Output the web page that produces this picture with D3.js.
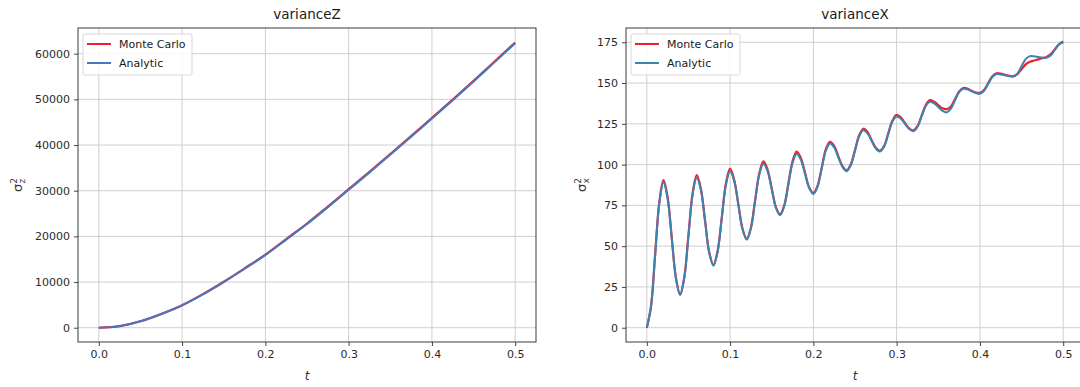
<!DOCTYPE html>
<html>
<head>
<meta charset="utf-8">
<script src="https://cdn.jsdelivr.net/npm/d3@7"></script>
<style>
html,body{margin:0;padding:0;background:#fff;}
svg{display:block;font-family:"DejaVu Sans",sans-serif;}
</style>
</head>
<body>
<svg id="chart" width="1080" height="387"></svg>
<script>
// ---------- data ----------
const seriesNames = ["Monte Carlo", "Analytic"];
const xTicks = [0.0, 0.1, 0.2, 0.3, 0.4, 0.5];
const zTicks = [0, 10000, 20000, 30000, 40000, 50000, 60000];
const xVarTicks = [0, 25, 50, 75, 100, 125, 150, 175];

// varianceZ sampled every 0.025
const tZ = [0,0.025,0.05,0.075,0.1,0.125,0.15,0.175,0.2,0.225,0.25,0.275,0.3,0.325,0.35,0.375,0.4,0.425,0.45,0.475,0.5];
const zAnalytic = [0,350,1400,3000,4900,7300,10000,12900,15900,19300,22700,26400,30200,34000,37900,41800,45800,49800,53900,58100,62300];
const zMonteCarlo = [0,355,1410,3020,4930,7350,10070,12990,16000,19410,22820,26530,30330,34140,38040,41950,45950,49950,54050,58250,62450];

// varianceX sampled every 0.005
const tX = [0,0.005,0.01,0.015,0.02,0.025,0.03,0.035,0.04,0.045,0.05,0.055,0.06,0.065,0.07,0.075,0.08,0.085,0.09,0.095,
0.1,0.105,0.11,0.115,0.12,0.125,0.13,0.135,0.14,0.145,0.15,0.155,0.16,0.165,0.17,0.175,0.18,0.185,0.19,0.195,
0.2,0.205,0.21,0.215,0.22,0.225,0.23,0.235,0.24,0.245,0.25,0.255,0.26,0.265,0.27,0.275,0.28,0.285,0.29,0.295,
0.3,0.305,0.31,0.315,0.32,0.325,0.33,0.335,0.34,0.345,0.35,0.355,0.36,0.365,0.37,0.375,0.38,0.385,0.39,0.395,
0.4,0.405,0.41,0.415,0.42,0.425,0.43,0.435,0.44,0.445,0.45,0.455,0.46,0.465,0.47,0.475,0.48,0.485,0.49,0.495,0.5];
const xAnalytic = [0,13,44.5,76,89,78.9,54.5,30.1,20,30.5,56,81.5,92,84.1,65,45.9,38,46.5,67,87.5,
96,89.8,75,60.2,54,60.8,77.3,93.7,100.5,95.9,84.8,73.6,69,74.5,87.8,101,106.5,102.9,94.3,85.6,
82,86.5,97.5,108.5,113,110.5,104.5,98.5,96,99.7,108.5,117.3,121,119.1,114.5,109.9,108,111.1,118.8,126.4,
129.5,128.2,125,121.8,120.5,123.1,129.5,135.9,138.5,137.5,135.3,133,132,134.1,139.3,144.4,146.5,146.1,145,143.9,
143.5,145.3,149.5,153.7,155.5,155.3,154.8,154.2,154,155.8,160.3,164.7,166.5,166.4,166,165.6,165.5,166.9,170.3,173.6,175];
const xMonteCarlo = [0,13,45,77,90.5,80,55,30.5,20.5,31,57,82.5,93.5,85,65.5,46,38.5,47,67.5,88.5,
97.5,90.5,75.5,60.5,54.5,61.5,78,94.5,102,97,85.5,74,69.5,75,88.5,102,108,104,95,86,
82.5,87,98,109.5,114,111.5,105,99,96.5,100.2,109,118,122,120,115,110.3,108.5,111.5,119.3,127,
130.5,129,125.5,122.3,121,123.6,130,136.5,139.5,138.5,136.5,134.5,134,135.5,140,144.8,147,146.6,145.3,144.2,
144,145.8,150,154.2,156,155.8,155,154.4,154.2,155.5,158.5,161.5,163,163.8,164.5,165.2,166,167.8,170.8,173.8,175.5];

// ---------- drawing ----------
const svg = d3.select("#chart");
const plotTop = 28, plotBottom = 342;

function panel(opts){
  const g = svg.append("g");
  const x = d3.scaleLinear().domain([-0.025, 0.525]).range([opts.left, opts.right]);
  const y = d3.scaleLinear().domain(opts.yDomain).range([plotBottom, plotTop]);
  const clipId = "clip" + opts.id;
  svg.append("clipPath").attr("id", clipId).append("rect")
     .attr("x", opts.left).attr("y", plotTop).attr("width", opts.right - opts.left).attr("height", plotBottom - plotTop);

  // grid
  g.append("g").selectAll("line").data(xTicks).join("line")
    .attr("x1", d => x(d)).attr("x2", d => x(d)).attr("y1", plotTop).attr("y2", plotBottom)
    .attr("stroke", "#cfcfcf").attr("stroke-width", 1);
  g.append("g").selectAll("line").data(opts.yTicks).join("line")
    .attr("x1", opts.left).attr("x2", opts.right).attr("y1", d => y(d)).attr("y2", d => y(d))
    .attr("stroke", "#cfcfcf").attr("stroke-width", 1);

  // lines
  const line = d3.line().x(d => x(d[0])).y(d => y(d[1])).curve(d3.curveCatmullRom.alpha(0.5));
  const lg = g.append("g").attr("clip-path", `url(#${clipId})`);
  lg.append("path").datum(opts.t.map((t, i) => [t, opts.mc[i]]))
    .attr("d", line).attr("fill", "none").attr("stroke", "#f0202a").attr("stroke-width", 2.2);
  lg.append("path").datum(opts.t.map((t, i) => [t, opts.an[i]]))
    .attr("d", line).attr("fill", "none").attr("stroke", opts.blue).attr("stroke-width", 2);

  // axes
  const xAxis = d3.axisBottom(x).tickValues(xTicks).tickFormat(d3.format(".1f")).tickSize(4).tickPadding(4);
  const yAxis = d3.axisLeft(y).tickValues(opts.yTicks).tickFormat(d => d).tickSize(4).tickPadding(4);
  const gx = g.append("g").attr("transform", `translate(0,${plotBottom})`).call(xAxis);
  const gy = g.append("g").attr("transform", `translate(${opts.left},0)`).call(yAxis);
  [gx, gy].forEach(a => {
    a.select(".domain").remove();
    a.selectAll(".tick line").attr("stroke", "#444");
    a.selectAll(".tick text").attr("fill", "#2a2a2a").style("font-size", "11px").style("font-family", "DejaVu Sans");
  });

  // spines
  g.append("rect").attr("x", opts.left).attr("y", plotTop)
    .attr("width", opts.right - opts.left).attr("height", plotBottom - plotTop)
    .attr("fill", "none").attr("stroke", "#3a3a3a").attr("stroke-width", 1);

  // title
  g.append("text").attr("x", (opts.left + opts.right) / 2).attr("y", 19)
    .attr("text-anchor", "middle").attr("fill", "#1a1a1a").style("font-size", "13.5px").text(opts.title);

  // x label
  g.append("text").attr("x", (opts.left + opts.right) / 2).attr("y", 380)
    .attr("text-anchor", "middle").attr("fill", "#333").style("font-size", "12px")
    .style("font-style", "italic").text("t");

  // y label
  const yl = g.append("text").attr("transform", `translate(${opts.ylabX},185) rotate(-90)`)
    .attr("text-anchor", "middle").attr("fill", "#333").style("font-size", "13px");
  yl.append("tspan").text("σ");
  yl.append("tspan").attr("dy", -5).style("font-size", "9px").text("2");
  yl.append("tspan").attr("dx", -5.5).attr("dy", 8).style("font-size", "9px").text(opts.sub);

  // legend
  const lgX = opts.left + 5, lgY = 34;
  const leg = g.append("g");
  leg.append("rect").attr("x", lgX).attr("y", lgY).attr("width", 109).attr("height", 41)
    .attr("rx", 2).attr("fill", "#fff").attr("fill-opacity", 0.85).attr("stroke", "#d8d8d8");
  const colors = ["#f0202a", opts.blue];
  seriesNames.forEach((name, i) => {
    const yy = lgY + 10 + i * 19;
    leg.append("line").attr("x1", lgX + 4).attr("x2", lgX + 28).attr("y1", yy).attr("y2", yy)
      .attr("stroke", colors[i]).attr("stroke-width", 2);
    leg.append("text").attr("x", lgX + 36).attr("y", yy + 4).attr("fill", "#1a1a1a")
      .style("font-size", "11px").text(name);
  });
}

panel({id: "Z", left: 78, right: 536, yDomain: [-3125, 65625], yTicks: zTicks,
  t: tZ, mc: zMonteCarlo, an: zAnalytic, title: "varianceZ", sub: "z", ylabX: 22, blue: "#4677bf"});
panel({id: "X", left: 626, right: 1084, yDomain: [-8.75, 183.75], yTicks: xVarTicks,
  t: tX, mc: xMonteCarlo, an: xAnalytic, title: "varianceX", sub: "x", ylabX: 586, blue: "#3b84b0"});
</script>
</body>
</html>
